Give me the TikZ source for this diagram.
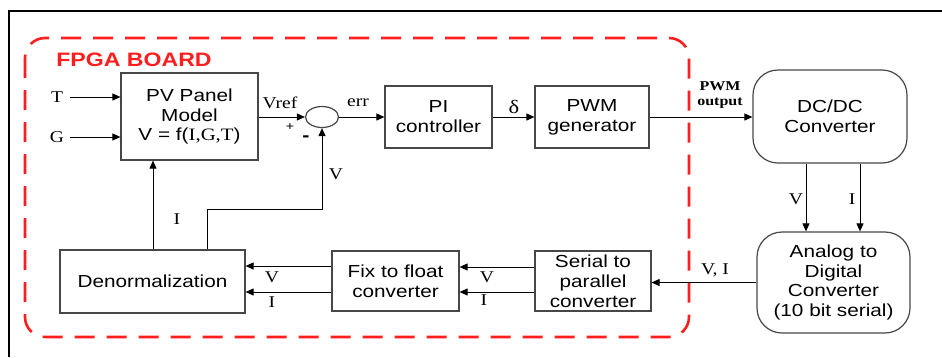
\documentclass[tikz,border=0pt]{standalone}
\usepackage{fontspec}
\usetikzlibrary{arrows.meta,shapes.geometric}
\newfontfamily\boxfont{Liberation Sans}[FakeStretch=1.19]
\newfontfamily\lblfont{Liberation Serif}[FakeStretch=1.19]
\definecolor{fpgared}{RGB}{255,30,30}
\begin{document}
\begin{tikzpicture}[x=1bp,y=-1bp,
  blk/.style={draw=black!72,line width=1.2bp,align=center,inner sep=0pt,
    font=\boxfont\fontsize{17.5}{20}\selectfont},
  rblk/.style={blk,rounded corners=25bp},
  arr/.style={line width=1bp,-{Triangle[length=8bp,width=7bp]}},
  ln/.style={line width=1bp},
  lbl/.style={inner sep=0pt,font=\lblfont\fontsize{16.5}{18}\selectfont},
]
\useasboundingbox (0,0) rectangle (942,357);
% outer frame (top and left edges)
\draw[line width=1.6bp] (942,11) -- (9,11) -- (9,357);
% FPGA board
\draw[fpgared,line width=2.6bp,dash pattern=on 20bp off 12bp,rounded corners=20bp]
  (25,38) rectangle (689,337);
\node[inner sep=0pt,text=fpgared,font=\boxfont\bfseries\fontsize{19.5}{22}\selectfont] (fpga) at (134,60) {FPGA BOARD};

% blocks
\node[blk,minimum width=137bp,minimum height=87bp] (pv) at (189.5,116.5)
  {PV Panel\\Model\\V = f({\lblfont I,G,T})};
\node[draw=black!72,line width=1.2bp,ellipse,minimum width=33bp,minimum height=21bp,inner sep=0pt] (sum) at (322,117) {};
\node[blk,minimum width=107bp,minimum height=62bp] (pi) at (438.5,117) {PI\\controller};
\node[blk,minimum width=114bp,minimum height=62bp] (pwm) at (592,117) {PWM\\generator};
\node[rblk,minimum width=154bp,minimum height=93bp] (dc) at (830,116.5) {DC/DC\\Converter};
\node[rblk,minimum width=153bp,minimum height=101bp] (adc) at (833.5,282.5)
  {Analog to\\Digital\\Converter\\(10 bit serial)};
\node[blk,minimum width=116bp,minimum height=60bp] (sp) at (593,281) {Serial to\\parallel\\converter};
\node[blk,minimum width=127bp,minimum height=60bp] (ff) at (395.5,281) {Fix to float\\converter};
\node[blk,minimum width=185bp,minimum height=63bp] (den) at (152.5,281.5) {Denormalization};

% inputs T, G
\node[lbl] (lT) at (57,97) {T};
\node[lbl] (lG) at (57,137) {G};
\coordinate (tin) at (70,97);
\coordinate (gin) at (70,137);
\draw[arr] (tin) -- (tin -| pv.west);
\draw[arr] (gin) -- (gin -| pv.west);

% forward path
\draw[arr] (pv.east |- sum.west) -- (sum.west);
\node[lbl] (lvref) at (280,103) {Vref};
\node[inner sep=0pt,font=\boxfont\fontsize{12}{12}\selectfont] (lplus) at (290,127) {+};
\node[inner sep=0pt,font=\boxfont\bfseries\fontsize{18}{18}\selectfont] (lminus) at (306,139) {-};
\draw[arr] (sum.east) -- (pi.west);
\node[lbl] (lerr) at (358,103) {err};
\draw[arr] (pi.east) -- (pwm.west);
\node[inner sep=0pt,font=\lblfont\fontsize{19}{20}\selectfont] (ldelta) at (514,107) {δ};
\draw[arr] (pwm.east) -- (dc.west |- pwm.east);
\node[inner sep=0pt,align=center,font=\lblfont\bfseries\fontsize{13.5}{16}\selectfont] (lpwm) at (720,95) {PWM\\output};

% DC/DC to ADC
\coordinate (vd) at ([xshift=-24bp]dc.south);
\coordinate (id) at ([xshift=30bp]dc.south);
\draw[arr] (vd) -- (vd |- adc.north);
\draw[arr] (id) -- (id |- adc.north);
\node[lbl] (lvd) at (796,199) {V};
\node[lbl] (lid) at (852,199) {I};

% ADC to serial/parallel
\draw[arr] (adc.west) -- (adc.west -| sp.east);
\node[lbl] (lvi) at (715,270) {V, I};

% serial/parallel to fix/float
\coordinate (sv) at ([yshift=14bp]sp.west);
\coordinate (si) at ([yshift=-11bp]sp.west);
\draw[arr] (sv) -- (sv -| ff.east);
\draw[arr] (si) -- (si -| ff.east);
\node[lbl] (lsv) at (487,277) {V};
\node[lbl] (lsi) at (484,300) {I};

% fix/float to denormalization
\coordinate (fv) at ([yshift=15bp]ff.west);
\coordinate (fi) at ([yshift=-11bp]ff.west);
\draw[arr] (fv) -- (fv -| den.east);
\draw[arr] (fi) -- (fi -| den.east);
\node[lbl] (lfv) at (272,277) {V};
\node[lbl] (lfi) at (272,302) {I};

% feedback
\coordinate (ix) at (153,200);
\draw[arr] (ix |- den.north) -- (ix |- pv.south);
\node[lbl] (lI) at (177,219) {I};
\coordinate (fb) at (207,209);
\draw[arr] (fb |- den.north) -- (fb) -| (sum.south);
\node[lbl] (lV) at (336,174) {V};
\end{tikzpicture}
\end{document}
